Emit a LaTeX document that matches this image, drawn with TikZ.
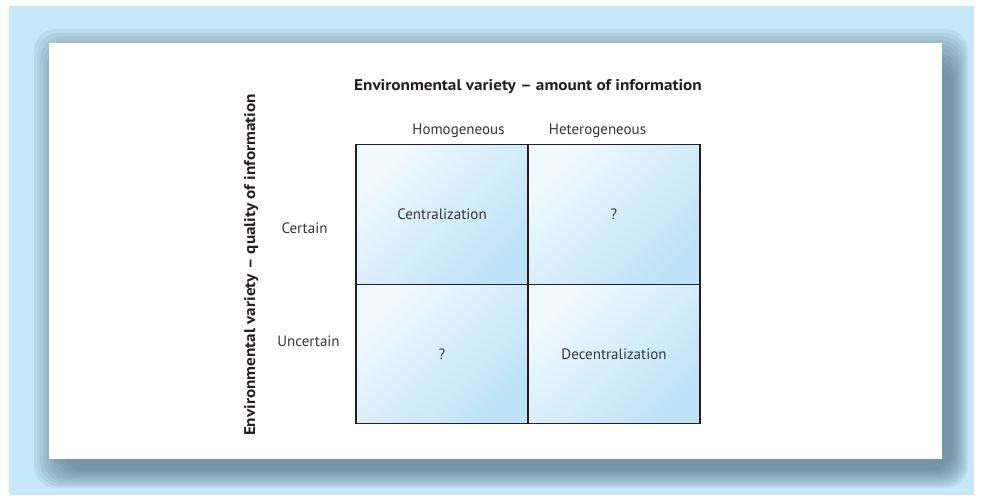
\documentclass[tikz,border=0pt]{standalone}
\usepackage{fontspec}
\setmainfont{PT Sans}
\newfontfamily\headfont[Ligatures=TeX, FakeStretch=1.11]{PT Sans}
\usetikzlibrary{positioning}

\definecolor{pageblue}{HTML}{C5E8F8}
\definecolor{shadowgray}{HTML}{46687A}
\definecolor{cellwhite}{HTML}{F1F9FE}
\definecolor{cellblue}{HTML}{BCE3F7}
\definecolor{textgray}{HTML}{363636}
\definecolor{headblack}{HTML}{231F20}

\begin{document}
\begin{tikzpicture}[
  x=1pt, y=-1pt,
  cell/.style={draw=headblack, line width=1.4pt, inner sep=0pt,
               minimum width=172pt, minimum height=139.5pt,
               top color=cellwhite, bottom color=cellblue, shading angle=45,
               font=\fontsize{15}{18}\selectfont, text=textgray},
  axislabel/.style={font=\headfont\fontsize{15.5}{18}\selectfont\bfseries, text=headblack, inner sep=0pt},
  level/.style={font=\fontsize{15}{18}\selectfont, text=textgray, inner sep=0pt, anchor=base}
]
\useasboundingbox (0,0) rectangle (984,498);

% ---- Page and card ----
\fill[pageblue] (9,6) rectangle (974,495);
\foreach \i in {0,...,9}
  \fill[shadowgray, opacity=0.09, rounded corners=22pt]
    ({34+3.1*\i},{29+3.8*\i}) rectangle ({968-1.7*\i},{488-2*\i});
\fill[white] (49,43) rectangle (942,459);

% ---- Axis titles ----
\node[axislabel, anchor=base] (amount) at (528,90)
  {Environmental variety -- amount of information};
\node[axislabel, anchor=base, rotate=90] (quality) at (255,265)
  {Environmental variety -- quality of information};

% ---- Column and row labels ----
\node[level] (homog) at (458.5,134) {Homogeneous};
\node[level] (heterog) at (597.5,134) {Heterogeneous};
\node[level] (certain) at (304.5,233) {Certain};
\node[level] (uncertain) at (308.5,346) {Uncertain};

% ---- Cells ----
\node[cell] (cent) at (442,214.5) {Centralization};
\node[cell] (hetcert) at (614,214.5) {?};
\node[cell] (homunc) at (442,354) {?};
\node[cell] (decent) at (614,354) {Decentralization};

\end{tikzpicture}
\end{document}
